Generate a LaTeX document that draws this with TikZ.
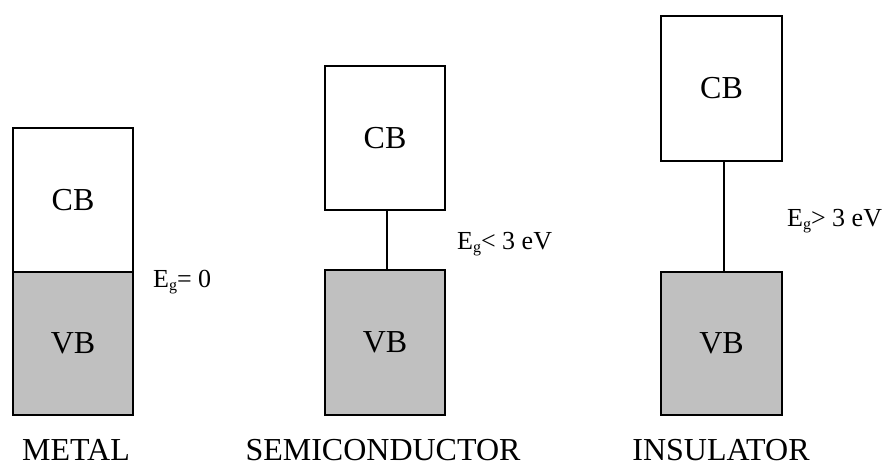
\documentclass[tikz,border=0pt]{standalone}
\usepackage{fontspec}
\setmainfont{Liberation Serif}
\definecolor{bandgrey}{HTML}{C0C0C0}
\begin{document}
\begin{tikzpicture}[x=1pt,y=-1pt,
  band/.style={draw=black, line width=1.8pt, minimum width=120pt, inner sep=0pt, font=\fontsize{32}{38}\selectfont},
  cband/.style={band, fill=white},
  vband/.style={band, fill=bandgrey},
  gapline/.style={line width=1.8pt},
  gaplabel/.style={anchor=base west, inner sep=0pt, font=\fontsize{26}{30}\selectfont},
  matlabel/.style={anchor=base, inner sep=0pt, text depth=0pt, font=\fontsize{32}{38}\selectfont}]
\useasboundingbox (0,0) rectangle (887,467);
% Metal
\node[vband, minimum height=143pt] (mvb) at (73,343.5) {VB};
\node[cband, minimum height=144pt] (mcb) at (73,200) {CB};
% Semiconductor
\node[cband, minimum height=144pt] (scb) at (385,138) {CB};
\node[vband, minimum height=145pt] (svb) at (385,342.5) {VB};
% Insulator
\node[cband, minimum height=145pt, minimum width=121pt] (icb) at (721.5,88.5) {CB};
\node[vband, minimum height=143pt, minimum width=121pt] (ivb) at (721.5,343.5) {VB};
% gaps
\draw[gapline] ([xshift=2pt]scb.south) -- ([xshift=2pt]svb.north);
\draw[gapline] ([xshift=2.5pt]icb.south) -- ([xshift=2.5pt]ivb.north);
% gap labels
\node[gaplabel] (mg) at (153,287) {E\raisebox{-0.3ex}{\fontsize{16}{18}\selectfont g}= 0};
\node[gaplabel] (sg) at (457,249) {E\raisebox{-0.3ex}{\fontsize{16}{18}\selectfont g}< 3 eV};
\node[gaplabel] (ig) at (787,226) {E\raisebox{-0.3ex}{\fontsize{16}{18}\selectfont g}> 3 eV};
% material labels
\node[matlabel] (ml) at (76,460) {METAL};
\node[matlabel] (sl) at (383,460) {SEMICONDUCTOR};
\node[matlabel] (il) at (721,460) {INSULATOR};
\end{tikzpicture}
\end{document}
